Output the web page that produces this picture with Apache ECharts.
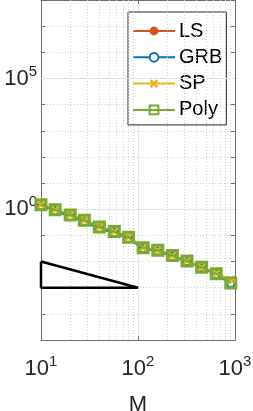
<!DOCTYPE html>
<html>
<head>
<meta charset="utf-8">
<script src="https://cdn.jsdelivr.net/npm/echarts@6/dist/echarts.min.js"></script>
<style>html,body{margin:0;padding:0;background:#fff}#c{width:253px;height:411px}</style>
</head>
<body>
<div id="c"></div>
<script>
// ---- data ----
const M = [10, 14, 20, 28, 40, 57, 80, 113, 160, 226, 320, 453, 640, 905];
const LS   = [1.5, 0.95, 0.6, 0.38, 0.21, 0.14, 0.085, 0.034, 0.027, 0.017, 0.0105, 0.006, 0.0034, 0.0015];
const GRB  = [1.3, 0.85, 0.52, 0.33, 0.18, 0.125, 0.075, 0.031, 0.025, 0.0155, 0.0098, 0.0057, 0.0032, 0.0014];
const SP   = [1.5, 0.95, 0.6, 0.38, 0.21, 0.14, 0.085, 0.034, 0.027, 0.017, 0.0105, 0.006, 0.0036, 0.002];
const Poly = [1.5, 0.95, 0.6, 0.38, 0.21, 0.14, 0.085, 0.034, 0.027, 0.017, 0.0105, 0.006, 0.0034, 0.0015];
const triX = [10, 10, 100, 10];
const triY = [1e-2, 1e-3, 1e-3, 1e-2];
const xMinorGrid = [20, 30, 40, 50, 60, 70, 80, 90, 200, 300, 400, 500, 600, 700, 800, 900];
const yMajorGrid = [1, 1e5];
const yLabelExp = [0, 5];
const xName = 'M';

const pairs = (xs, ys) => xs.map((x, i) => [x, ys[i]]);
const FONT = 'Liberation Sans';
const AX = '#6e6e6e';
const sup = {
  b: {fontSize: 22, fontFamily: FONT, color: '#262626'},
  s: {fontSize: 15, fontFamily: FONT, color: '#262626', padding: [0, 0, 14, 0]}
};
const expOf = v => Math.round(Math.log10(v));

const chart = echarts.init(document.getElementById('c'));
chart.setOption({
  animation: false,
  backgroundColor: '#fff',
  grid: {left: 41, right: 18, top: 0, bottom: 71, containLabel: false, outerBoundsMode: 'none'},
  legend: {
    left: 128, top: 12, orient: 'vertical',
    data: ['LS', 'GRB', 'SP', 'Poly'],
    backgroundColor: '#fff', borderColor: '#262626', borderWidth: 1,
    padding: [9, 4, 5, 4],
    itemWidth: 42, itemHeight: 11, itemGap: 6.3,
    textStyle: {fontSize: 20, lineHeight: 20, fontFamily: FONT, color: '#000', padding: [0, 0, 0, -1]}
  },
  xAxis: [{
    type: 'log', logBase: 10, min: 10, max: 1000,
    name: xName, nameLocation: 'middle', nameGap: 54,
    nameTextStyle: {fontSize: 22, fontFamily: FONT, color: '#262626'},
    axisLine: {show: true, lineStyle: {color: AX, width: 1}},
    axisTick: {show: true, inside: true, length: 4, lineStyle: {color: AX}},
    axisLabel: {margin: 14, formatter: v => '{b|10}{s|' + expOf(v) + '}', rich: sup},
    splitLine: {show: true, lineStyle: {color: '#e3e3e3', width: 1}}
  }, {
    type: 'log', logBase: 10, min: 10, max: 1000, position: 'top',
    axisLine: {show: true, lineStyle: {color: AX, width: 1}},
    axisTick: {show: true, inside: true, length: 4, lineStyle: {color: AX}},
    axisLabel: {show: false}, splitLine: {show: false}
  }],
  yAxis: [{
    type: 'log', logBase: 10, min: 1e-5, max: 1e8, interval: 1,
    axisLine: {show: true, lineStyle: {color: AX, width: 1}},
    axisTick: {show: true, inside: true, length: 4, lineStyle: {color: AX}},
    axisLabel: {
      margin: 4,
      formatter: v => { const e = expOf(v); return yLabelExp.includes(e) ? '{b|10}{s|' + e + '}' : ''; },
      rich: sup
    },
    splitLine: {show: true, lineStyle: {color: '#cfcfcf', width: 1, type: [1, 2]}}
  }, {
    type: 'log', logBase: 10, min: 1e-5, max: 1e8, interval: 1, position: 'right',
    axisLine: {show: true, lineStyle: {color: AX, width: 1}},
    axisTick: {show: true, inside: true, length: 4, lineStyle: {color: AX}},
    axisLabel: {show: false}, splitLine: {show: false}
  }],
  series: [
    {
      name: 'grid', type: 'line', data: [], silent: true,
      markLine: {
        silent: true, symbol: 'none', label: {show: false}, animation: false,
        data: xMinorGrid.map(x => ({xAxis: x, lineStyle: {color: '#cfcfcf', width: 1, type: [1, 2]}}))
          .concat(yMajorGrid.map(y => ({yAxis: y, lineStyle: {color: '#e3e3e3', width: 1, type: 'solid'}})))
      }
    },
    {
      name: 'LS', type: 'line', data: pairs(M, LS), symbol: 'circle', symbolSize: 7,
      lineStyle: {color: '#D95319', width: 2}, itemStyle: {color: '#D95319'}, z: 3
    },
    {
      name: 'GRB', type: 'line', data: pairs(M, GRB), symbol: 'circle', symbolSize: 7,
      lineStyle: {color: '#0072BD', width: 2}, itemStyle: {color: '#ffffff', borderColor: '#0072BD', borderWidth: 2}, z: 4
    },
    {
      name: 'SP', type: 'line', data: pairs(M, SP),
      symbol: 'path://M0,2L2,0L5,3L8,0L10,2L7,5L10,8L8,10L5,7L2,10L0,8L3,5Z', symbolSize: 9,
      lineStyle: {color: '#EDB120', width: 2}, itemStyle: {color: '#EDB120'}, z: 5
    },
    {
      name: 'Poly', type: 'line', data: pairs(M, Poly), symbol: 'rect', symbolSize: 10,
      lineStyle: {color: '#77AC30', width: 2}, itemStyle: {color: 'rgba(0,0,0,0)', borderColor: '#77AC30', borderWidth: 3}, z: 6
    },
    {
      name: 'tri', type: 'line', data: pairs(triX, triY), symbol: 'none', silent: true,
      lineStyle: {color: '#000', width: 2.5}, z: 7
    }
  ]
});
</script>
</body>
</html>
